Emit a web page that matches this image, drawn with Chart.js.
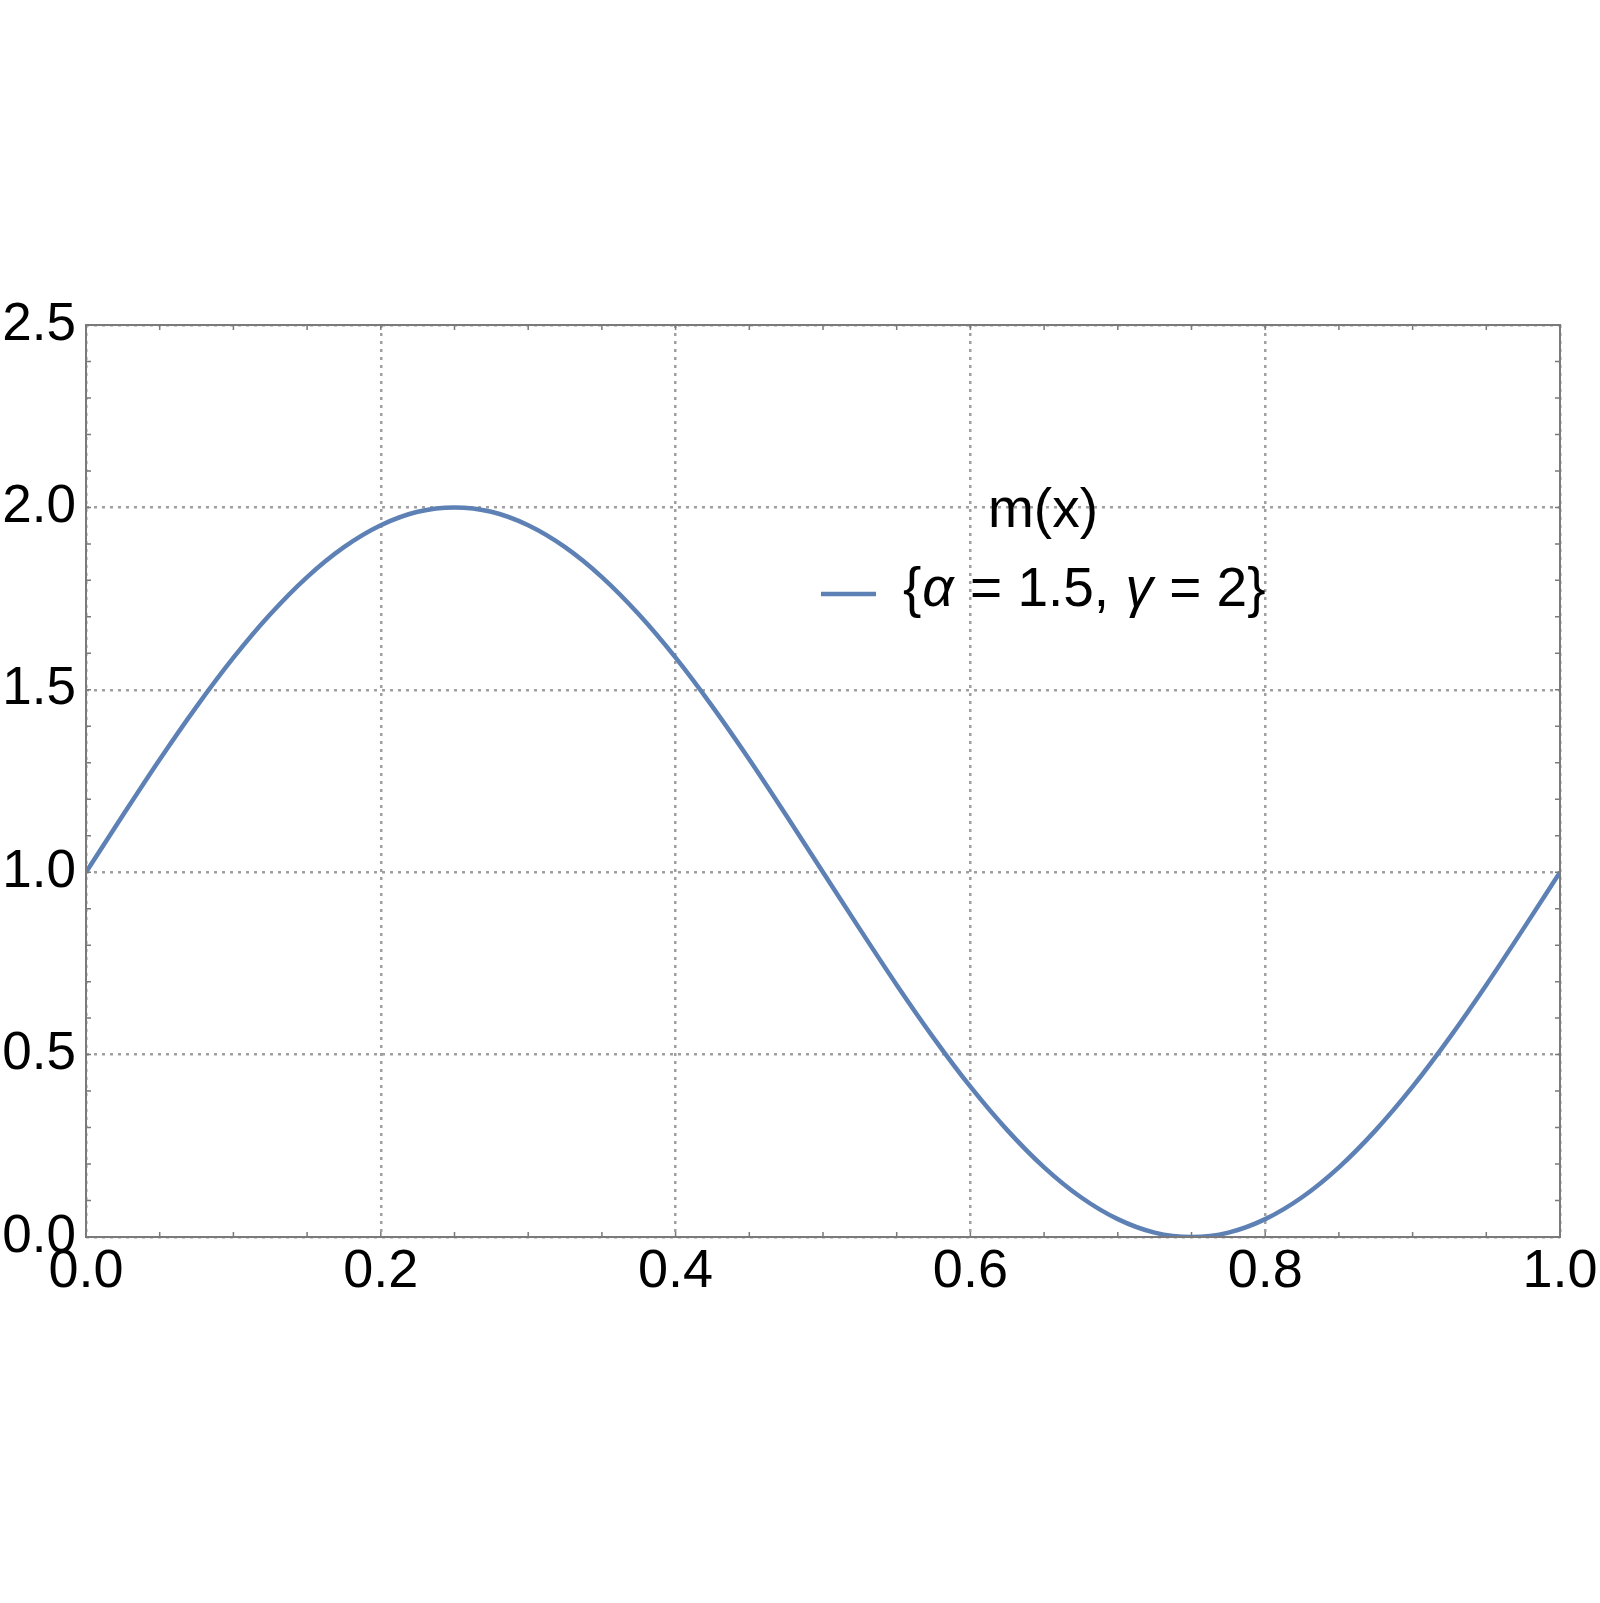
<!DOCTYPE html>
<html>
<head>
<meta charset="utf-8">
<script src="https://cdn.jsdelivr.net/npm/chart.js@4"></script>
<style>
  body { margin: 0; background: #fff; }
  #wrap { width: 1600px; height: 1603px; }
</style>
</head>
<body>
<div id="wrap"><canvas id="chart" width="1600" height="1603"></canvas></div>
<script>
// values
const xValues = [0, 0.025, 0.05, 0.075, 0.1, 0.125, 0.15, 0.175, 0.2, 0.225,
  0.25, 0.275, 0.3, 0.325, 0.35, 0.375, 0.4, 0.425, 0.45, 0.475,
  0.5, 0.525, 0.55, 0.575, 0.6, 0.625, 0.65, 0.675, 0.7, 0.725,
  0.75, 0.775, 0.8, 0.825, 0.85, 0.875, 0.9, 0.925, 0.95, 0.975, 1];
const mValues = [1.0, 1.156, 1.309, 1.454, 1.588, 1.707, 1.809, 1.891, 1.951, 1.988,
  2.0, 1.988, 1.951, 1.891, 1.809, 1.707, 1.588, 1.454, 1.309, 1.156,
  1.0, 0.844, 0.691, 0.546, 0.412, 0.293, 0.191, 0.109, 0.049, 0.012,
  0.0, 0.012, 0.049, 0.109, 0.191, 0.293, 0.412, 0.546, 0.691, 0.844, 1.0];
const xTicks = [0, 0.2, 0.4, 0.6, 0.8, 1.0];
const yTicks = [0, 0.5, 1.0, 1.5, 2.0, 2.5];
const legendTitle = 'm(x)';
const seriesLabel = '{α = 1.5, γ = 2}';

const lineColor = '#5e81b5';
const FONT = '"Liberation Sans", Arial, Helvetica, sans-serif';

// frame + minor ticks drawn on top
const framePlugin = {
  id: 'frame',
  afterDraw(chart) {
    const { ctx, chartArea: a, scales } = chart;
    ctx.save();
    ctx.strokeStyle = '#7a7a7a';
    ctx.lineWidth = 2;
    ctx.strokeRect(a.left, a.top, a.right - a.left, a.bottom - a.top);
    ctx.lineWidth = 1.5;
    ctx.beginPath();
    for (let v = 0; v <= 1.0001; v += 0.05) {
      const px = scales.x.getPixelForValue(v);
      ctx.moveTo(px, a.bottom); ctx.lineTo(px, a.bottom - 5);
      ctx.moveTo(px, a.top); ctx.lineTo(px, a.top + 5);
    }
    for (let v = 0; v <= 2.5001; v += 0.1) {
      const py = scales.y.getPixelForValue(v);
      ctx.moveTo(a.left, py); ctx.lineTo(a.left + 5, py);
      ctx.moveTo(a.right, py); ctx.lineTo(a.right - 5, py);
    }
    ctx.stroke();
    ctx.restore();
  }
};

// legend inside the plot, like the original
const legendPlugin = {
  id: 'insideLegend',
  afterDraw(chart) {
    const ctx = chart.ctx;
    const ds = chart.data.datasets[0];
    ctx.save();
    ctx.fillStyle = '#000';
    ctx.textBaseline = 'alphabetic';
    ctx.font = '55px ' + FONT;
    ctx.textAlign = 'center';
    ctx.fillText(legendTitle, 1043, 527);

    ctx.strokeStyle = ds.borderColor;
    ctx.lineWidth = 4.5;
    ctx.beginPath();
    ctx.moveTo(821, 594); ctx.lineTo(876, 594);
    ctx.stroke();

    // split label so greek letters are italic
    const parts = seriesLabel.split(/([αγ])/);
    let x = 903;
    ctx.textAlign = 'left';
    parts.forEach(p => {
      if (!p) return;
      ctx.font = (/[αγ]/.test(p) ? 'italic ' : '') + '55px ' + FONT;
      ctx.fillText(p, x, 606);
      x += ctx.measureText(p).width + 1;
    });
    ctx.restore();
  }
};

const points = xValues.map((x, i) => ({ x: x, y: mValues[i] }));

new Chart(document.getElementById('chart'), {
  type: 'line',
  data: {
    datasets: [{
      label: seriesLabel,
      data: points,
      borderColor: lineColor,
      borderWidth: 4.5,
      pointRadius: 0,
      cubicInterpolationMode: 'monotone',
      fill: false
    }]
  },
  options: {
    responsive: false,
    animation: false,
    layout: { padding: { top: 325, right: 40, bottom: 266, left: 0 } },
    plugins: { legend: { display: false }, tooltip: { enabled: false } },
    scales: {
      x: {
        type: 'linear',
        min: 0, max: 1,
        afterFit: s => { s.height = 100; s.paddingLeft = 0; s.paddingRight = 0; },
        afterBuildTicks: s => { s.ticks = xTicks.map(v => ({ value: v })); },
        ticks: {
          padding: 3,
          color: '#000',
          font: { family: FONT, size: 54 },
          maxRotation: 0,
          callback: v => v.toFixed(1)
        },
        grid: { color: '#a0a0a0', lineWidth: 2.5, drawTicks: false },
        border: { display: false, dash: [3, 5] }
      },
      y: {
        min: 0, max: 2.5,
        afterFit: s => { s.width = 86; },
        afterBuildTicks: s => { s.ticks = yTicks.map(v => ({ value: v })); },
        ticks: {
          padding: 10,
          color: '#000',
          font: { family: FONT, size: 53 },
          callback: v => v.toFixed(1)
        },
        grid: { color: '#a0a0a0', lineWidth: 2.5, drawTicks: false },
        border: { display: false, dash: [3, 5] }
      }
    }
  },
  plugins: [framePlugin, legendPlugin]
});
</script>
</body>
</html>
